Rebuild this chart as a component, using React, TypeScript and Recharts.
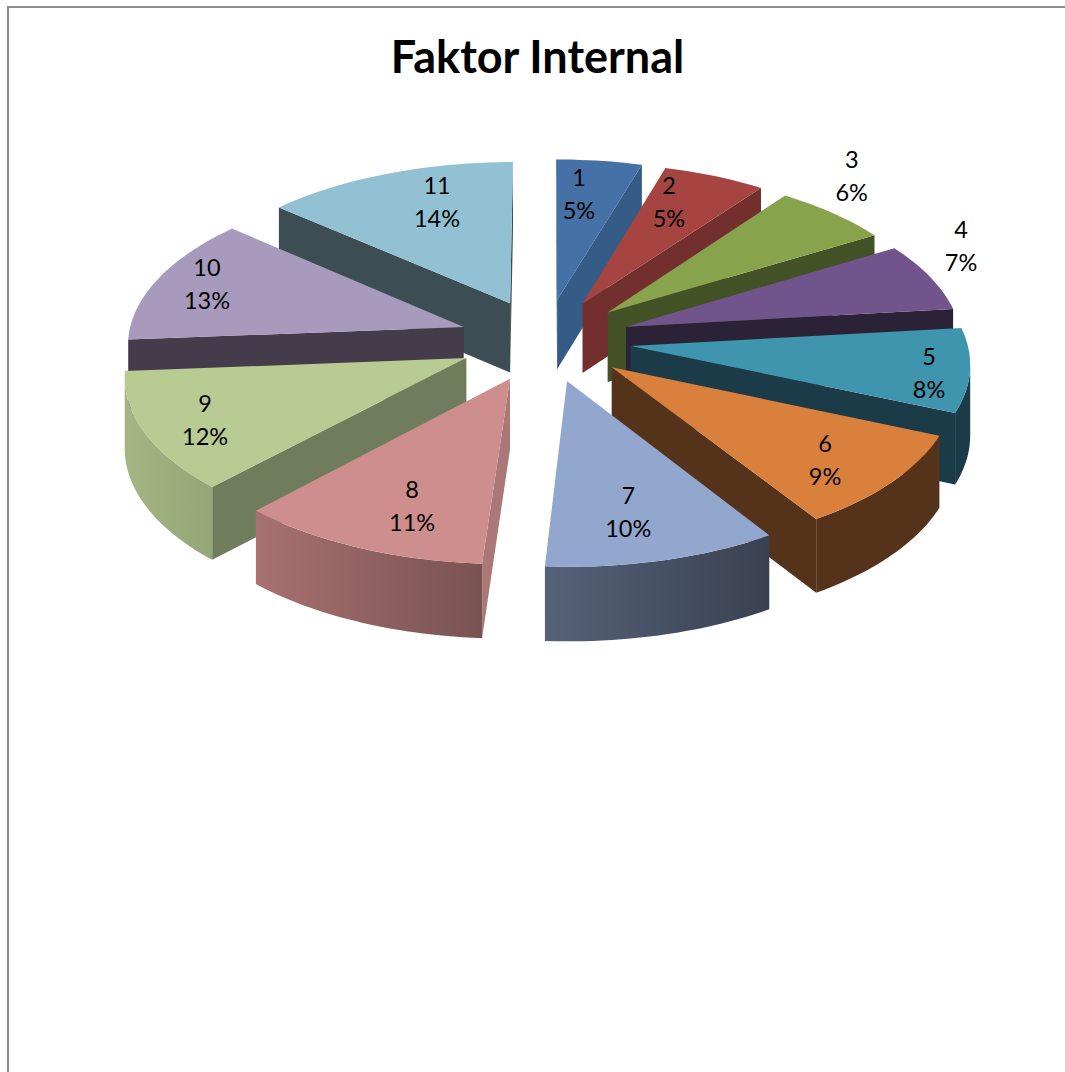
import React from "react";
import { PieChart, Pie } from "recharts";

const TITLE = "Faktor Internal";
const CATEGORIES = ["1", "2", "3", "4", "5", "6", "7", "8", "9", "10", "11"];
const VALUES = [4.58, 5.47, 6.25, 6.89, 8.33, 9.47, 10.03, 10.92, 11.81, 12.72, 13.53];

const TOP_COLORS = ["#4571A7", "#A64442", "#87A34B", "#70548B", "#3F95AD", "#D9803C", "#92A7CE", "#CE8E8D", "#B8CB92", "#A89ABD", "#91C1D3"];
const CUT_COLORS = ["#355C87", "#722F2E", "#435126", "#2C2238", "#1A3B47", "#55331A", "#3A4152", "#AB7877", "#707D5C", "#443C4A", "#3C4E54"];
const WALL_LEFT = ["#355C87", "#722F2E", "#435126", "#2C2238", "#1A3B47", "#55331A", "#556278", "#A87170", "#A5B583", "#443C4A", "#3C4E54"];
const WALL_RIGHT = ["#355C87", "#722F2E", "#435126", "#2C2238", "#1A3B47", "#55331A", "#3A4152", "#785352", "#94A677", "#443C4A", "#3C4E54"];

// label placement: distance from the pie centre (in radii) and turn from the slice middle (degrees)
const LABEL_DIST = [0.9986, 1.0158, 1.513, 1.448, 1.1395, 1.047, 1.0, 1.0105, 1.078, 1.1, 0.9966];
const LABEL_TURN = [-1.9, -3.1, -5.65, -6.4, 1.7, 1.35, 1.35, -2.4, -0.45, 0.7, 3.85];

const WIDTH = 1057;
const HEIGHT = 1056;
const CX = 537;
const CY = 332;
const RADIUS = 336;
const TILT = 0.478; // squash of the disc
const PERSPECTIVE = 0.0924;
const EXPLODE = 0.257;
const DEPTH = 70;
const FONT = "Lato, 'Open Sans', sans-serif";

const total = VALUES.reduce((a, b) => a + b, 0);
const rows = CATEGORIES.map((name, i) => ({ name, value: VALUES[i], idx: i }));
const RIGHT_COUNT = 6;
const rightRows = rows.slice(0, RIGHT_COUNT);
// painted from the back towards the front, so the left half runs counter-clockwise
const leftRows = rows.slice(RIGHT_COUNT).reverse();
const rightSpan = (rightRows.reduce((a, r) => a + r.value, 0) / total) * 360;
const leftSpan = 360 - rightSpan;

type Pt = [number, number];

function project(cx: number, cy: number, r: number, x: number, y: number, low = false): Pt {
    const s = 1 / (1 + PERSPECTIVE * y);
    return [cx + r * x * s, cy - r * TILT * y * s + (low ? DEPTH * (0.5 + 0.5 * s) : 0)];
}

const rad = (d: number) => (d * Math.PI) / 180;

function area(pts: Pt[]) {
    let sum = 0;
    pts.forEach((p, i) => {
        const q = pts[(i + 1) % pts.length];
        sum += p[0] * q[1] - q[0] * p[1];
    });
    return sum / 2;
}

const toPath = (pts: Pt[]) => "M" + pts.map((p) => `${p[0].toFixed(1)},${p[1].toFixed(1)}`).join("L") + "Z";

function Slice3D(props: any) {
    const { cx, cy, outerRadius, startAngle, endAngle, payload } = props;
    const idx: number = payload.idx;
    const a0 = 90 - Math.max(startAngle, endAngle);
    const a1 = 90 - Math.min(startAngle, endAngle);
    const mid = rad((a0 + a1) / 2);
    const ox = EXPLODE * Math.sin(mid);
    const oy = EXPLODE * Math.cos(mid);
    const at = (deg: number, low = false) =>
        project(cx, cy, outerRadius, ox + Math.sin(rad(deg)), oy + Math.cos(rad(deg)), low);
    const apex = (low = false) => project(cx, cy, outerRadius, ox, oy, low);

    const steps: number[] = [];
    const n = Math.max(2, Math.ceil((a1 - a0) / 1.5));
    for (let i = 0; i <= n; i++) steps.push(a0 + ((a1 - a0) * i) / n);

    const topFace: Pt[] = [apex(), ...steps.map((d) => at(d))];
    const startCut: Pt[] = [apex(), at(a0), at(a0, true), apex(true)];
    const endCut: Pt[] = [at(a1), apex(), apex(true), at(a1, true)];

    // outer wall: only the arc pieces that turn towards the viewer
    const shown = steps.filter((d, i) => {
        const next = steps[i + 1];
        if (next === undefined) {
            const prev = steps[i - 1];
            return area([at(prev), at(d), at(d, true), at(prev, true)]) < 0;
        }
        return area([at(d), at(next), at(next, true), at(d, true)]) < 0;
    });
    const wall: Pt[] = shown.length > 1
        ? [...shown.map((d) => at(d)), ...shown.map((d) => at(d, true)).reverse()]
        : [];
    const xs = wall.map((p) => p[0]);
    const gradId = `wall-${idx}`;

    return (
        <g>
            {area(startCut) < 0 && <path d={toPath(startCut)} fill={CUT_COLORS[idx]} />}
            {area(endCut) < 0 && <path d={toPath(endCut)} fill={CUT_COLORS[idx]} />}
            {wall.length > 0 && (
                <>
                    <linearGradient id={gradId} gradientUnits="userSpaceOnUse" x1={Math.min(...xs)} x2={Math.max(...xs)} y1={0} y2={0}>
                        <stop offset="0" stopColor={WALL_LEFT[idx]} />
                        <stop offset="1" stopColor={WALL_RIGHT[idx]} />
                    </linearGradient>
                    <path d={toPath(wall)} fill={`url(#${gradId})`} />
                </>
            )}
            <path d={toPath(topFace)} fill={TOP_COLORS[idx]} />
        </g>
    );
}

function SliceLabel(props: any) {
    const { cx, cy, outerRadius, midAngle, payload } = props;
    const idx: number = payload.idx;
    const deg = 90 - midAngle + LABEL_TURN[idx];
    const [x, y] = project(
        cx, cy, outerRadius,
        LABEL_DIST[idx] * Math.sin(rad(deg)),
        LABEL_DIST[idx] * Math.cos(rad(deg)),
    );
    const pct = `${Math.round((VALUES[idx] / total) * 100)}%`;
    return (
        <text textAnchor="middle" fontFamily={FONT} fontSize={23.5} fill="#000">
            <tspan x={x} y={y - 8}>{CATEGORIES[idx]}</tspan>
            <tspan x={x} y={y + 25}>{pct}</tspan>
        </text>
    );
}

export default function App() {
    return (
        <div style={{ position: "relative", width: WIDTH, height: HEIGHT }}>
            <PieChart width={WIDTH} height={HEIGHT} margin={{ top: 0, right: 0, bottom: 0, left: 0 }}>
                <text x={529.5} y={65} textAnchor="middle" fontFamily={FONT} fontWeight={700} fontSize={45} fill="#000">
                    {TITLE}
                </text>
                <Pie
                    data={rightRows}
                    dataKey="value"
                    nameKey="name"
                    cx={CX}
                    cy={CY}
                    outerRadius={RADIUS}
                    startAngle={90}
                    endAngle={90 - rightSpan}
                    stroke="none"
                    shape={Slice3D}
                    label={SliceLabel}
                    labelLine={false}
                    isAnimationActive={false}
                />
                <Pie
                    data={leftRows}
                    dataKey="value"
                    nameKey="name"
                    cx={CX}
                    cy={CY}
                    outerRadius={RADIUS}
                    startAngle={90}
                    endAngle={90 + leftSpan}
                    stroke="none"
                    shape={Slice3D}
                    label={SliceLabel}
                    labelLine={false}
                    isAnimationActive={false}
                />
            </PieChart>
            <div
                style={{
                    position: "fixed", left: 7, top: 6, width: 1058, height: 1066,
                    borderLeft: "2px solid #8c8c8c", borderTop: "2px solid #8c8c8c",
                    boxSizing: "border-box", pointerEvents: "none",
                }}
            />
        </div>
    );
}
